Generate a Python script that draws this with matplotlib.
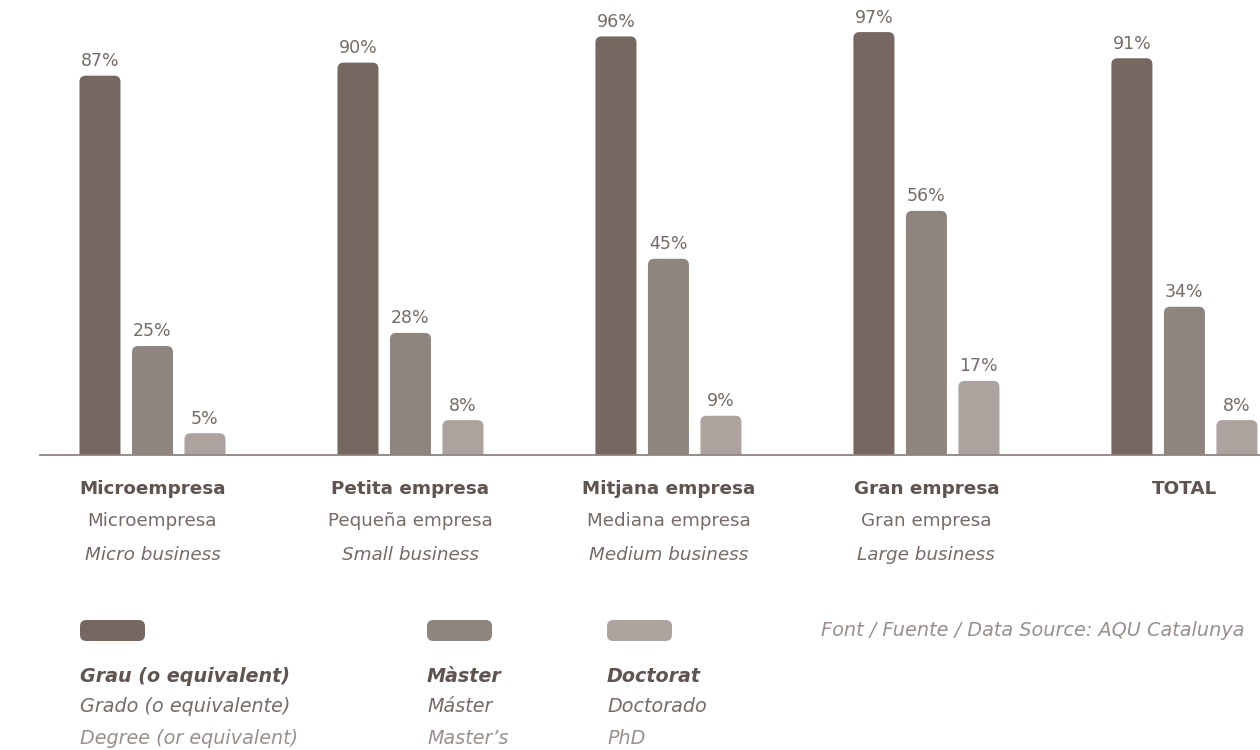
import numpy as np
import matplotlib
matplotlib.use("Agg")
import matplotlib.pyplot as plt
from matplotlib.patches import FancyBboxPatch

# data
cat_ca = ["Microempresa", "Petita empresa", "Mitjana empresa", "Gran empresa", "TOTAL"]
cat_es = ["Microempresa", "Pequeña empresa", "Mediana empresa", "Gran empresa", ""]
cat_en = ["Micro business", "Small business", "Medium business", "Large business", ""]
grau = [87, 90, 96, 97, 91]
master = [25, 28, 45, 56, 34]
doctorat = [5, 8, 9, 17, 8]
series = [grau, master, doctorat]
legend_ca = ["Grau (o equivalent)", "Màster", "Doctorat"]
legend_es = ["Grado (o equivalente)", "Máster", "Doctorado"]
legend_en = ["Degree (or equivalent)", "Master’s", "PhD"]
source = "Font / Fuente / Data Source: AQU Catalunya"

colors = ["#766860", "#8f857f", "#aca39f"]
txt_dark = "#5f544e"
txt_mid = "#766b65"
txt_light = "#9a908b"

plt.rcParams["font.family"] = ["DejaVu Sans"]

W, H = 1260, 750
fig = plt.figure(figsize=(W / 100, H / 100), dpi=100)
base_px = 455
px_per_unit_y = 4.36
ax = fig.add_axes([40 / W, (H - base_px) / H, 1220 / W, base_px / H])
ax.set_xlim(-0.436, 4.293)
ax.set_ylim(0, base_px / px_per_unit_y)
ax.axis("off")

x = np.arange(len(cat_ca))
step = 0.2035
width = 0.159
px_per_unit_x = 258.0
aspect = px_per_unit_x / px_per_unit_y

for i, vals in enumerate(series):
    bars = ax.bar(x + (i - 1) * step, vals, width, color=colors[i])
    for b, v in zip(bars, vals):
        # swap the plain bar for one with rounded top corners
        b.set_visible(False)
        p = FancyBboxPatch((b.get_x(), -3), b.get_width(), v + 3,
                           boxstyle="round,pad=0,rounding_size=0.024",
                           mutation_aspect=aspect, fc=colors[i], ec="none")
        ax.add_patch(p)
        ax.annotate(f"{v}%", (b.get_x() + b.get_width() / 2, v),
                    xytext=(0, 4), textcoords="offset points",
                    ha="center", va="bottom", fontsize=12.5, color=txt_mid,
                    annotation_clip=False)

ax.axhline(0, color="#8f857f", lw=1.3, clip_on=False)

def ypx(p):
    return (base_px - p) / px_per_unit_y

for xi, a, b, c in zip(x, cat_ca, cat_es, cat_en):
    ax.text(xi, ypx(489), a, ha="center", va="center", fontsize=13.2,
            fontweight="bold", color=txt_dark, clip_on=False)
    ax.text(xi, ypx(521), b, ha="center", va="center", fontsize=13.2,
            color=txt_mid, clip_on=False)
    ax.text(xi, ypx(555), c, ha="center", va="center", fontsize=13.2,
            style="italic", color=txt_mid, clip_on=False)

# legend
leg_x = [80, 427, 607]
for lx, col, a, b, c in zip(leg_x, colors, legend_ca, legend_es, legend_en):
    sw = FancyBboxPatch((lx / W, 1 - 641 / H), 65 / W, 21 / H,
                        boxstyle="round,pad=0,rounding_size=0.005",
                        mutation_aspect=W / H, transform=fig.transFigure,
                        fc=col, ec="none")
    fig.patches.append(sw)
    fig.text(lx / W, 1 - 676 / H, a, ha="left", va="center", fontsize=13.8,
             style="italic", fontweight="bold", color=txt_dark)
    fig.text(lx / W, 1 - 707 / H, b, ha="left", va="center", fontsize=13.8,
             style="italic", color=txt_mid)
    fig.text(lx / W, 1 - 738 / H, c, ha="left", va="center", fontsize=13.8,
             style="italic", color=txt_light)

fig.text(821 / W, 1 - 630 / H, source, ha="left", va="center", fontsize=13.9,
         style="italic", color=txt_light)

fig.savefig("out.png", dpi=100)
